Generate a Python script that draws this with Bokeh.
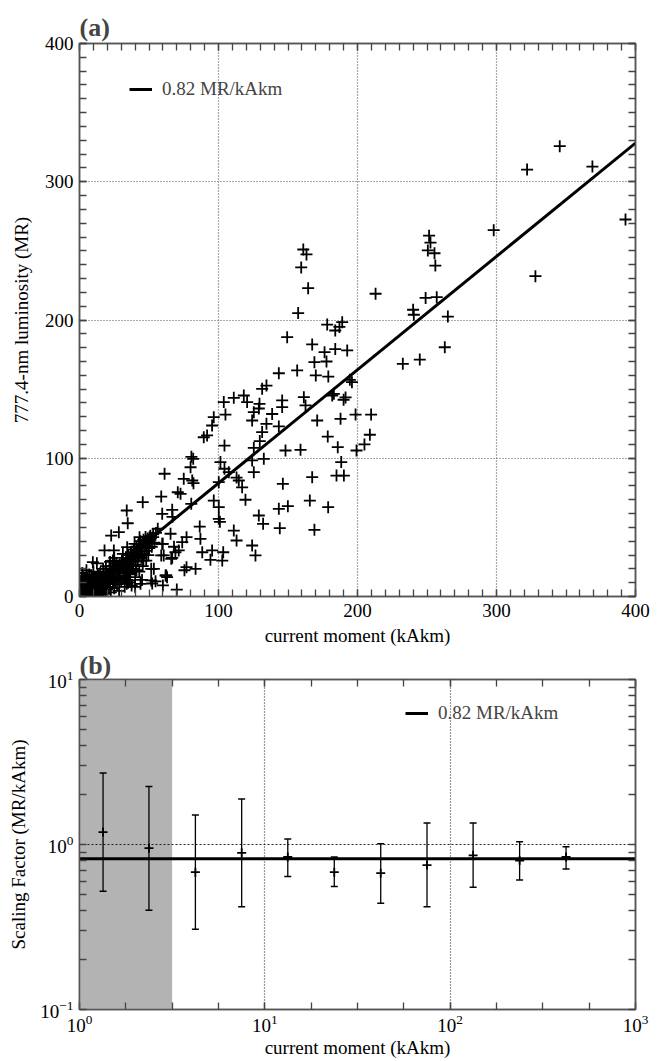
from bokeh.plotting import figure
from bokeh.layouts import column
from bokeh.models import (ColumnDataSource, Whisker, TeeHead, BoxAnnotation, LinearAxis, LogAxis,
                          SingleIntervalTicker, FixedTicker, Legend, LegendItem, CustomJSTickFormatter)
from bokeh.embed import file_html
from bokeh.resources import INLINE

# ---------------- data ----------------
FIT_SLOPE = 0.82
FIT_LABEL = "0.82 MR/kAkm"

# panel (a): current moment (kAkm) vs 777.4-nm luminosity (MR)
moment_ka = [
    345.5, 322, 369, 392.8, 328, 298, 251.5, 252.5, 250.6, 255.4, 256, 213, 249, 257, 240, 240.5, 265, 262.8,
    232.6, 244.8, 194.5, 196, 183, 191.4, 189, 184, 187, 184, 192.6,
    161, 163.3, 159.5, 164.5, 157.3, 149.4, 167.4, 178.2, 176.3, 169, 177.7, 170, 179, 156.6, 143.4, 131.4,
    134.5, 103.8, 111, 118.2, 129.5, 145.8, 161.4, 181.8, 190, 145.8, 129,
    162.6, 125.4, 138.6, 124.2, 134.5, 143.4, 131.4, 129.7, 125.4, 132.6, 124.2, 148.2, 159, 171, 187.8, 178.6,
    185.8, 198.6, 209.8, 208.9, 205, 199.3, 188.3, 184.9, 190.2, 167.4, 146.3, 165.7, 178.9, 149.9, 143.4, 129,
    132.1, 144.1, 169, 124.2, 126.6, 120.6,
    96.6, 95.4, 105, 89.4, 91.8, 104.3, 81.8, 79.9, 81.1, 75, 82, 61.2, 101.4, 104.3, 107.4, 100.2, 70.7, 58.8,
    72.7, 96.6, 100.2, 80.4, 59.5, 66.7, 66.9, 100.2, 101, 86.5, 56.3, 65.5, 77, 73.9, 59.5, 87, 71.4, 88.3,
    95.4, 103.4, 102.7, 94.2, 60.6, 66.7, 111, 113, 77, 83.5, 75.5, 61.9, 53.5, 54.7, 125.4, 119.4, 114.6, 117,
    113, 80.5,
    9.6, 12.5, 24, 31.2, 39.6, 43.2, 50.4, 59.9, 58.8, 66, 68, 69, 51.6, 51.6, 62.4, 35, 40, 45, 43.9, 60, 70,
    34, 36, 28.3, 24.7, 34.3, 22.8, 18, 45.5, 34, 34.7, 63, 52.3,
    0.5, 1, 1.5, 2, 2.5, 3, 3, 3.5, 4, 4, 4.5, 5, 5, 5.5, 6, 6, 6.5, 7, 7, 7.5, 8, 8, 8.5, 9, 9, 9.5, 10, 10,
    10.5, 11, 11, 11.5, 12, 12, 12.5, 2, 1, 0.5, 1.5, 3, 2, 0.8, 13, 13.5, 14, 14, 14.5, 15, 15.5, 16, 16, 16.5,
    17, 17.5, 18, 18, 18.5, 19, 19.5, 20, 20, 20.5, 21, 21.5, 22, 22.5, 23, 23.5, 24, 24.5, 25, 25, 26, 26.5,
    27, 27.5, 28, 28.5, 29, 29.5, 30, 30.5, 31, 32, 32.5, 33, 33.5, 34, 34.5, 35, 35.5, 36, 36.5, 37, 37.5, 38,
    38.5, 39, 39.5, 40, 40.5, 41, 41.5, 42, 42.5, 43, 43.5, 44, 44.5, 45, 45.5, 46, 46.5, 47, 47.5, 48, 48.5,
    49, 49.5, 50, 51, 52, 53, 54, 55,
    3, 4, 5, 6, 7, 8, 9, 10, 11, 12, 13, 14, 15, 16, 17, 18, 19, 20, 21, 22, 23, 24, 25, 26, 27, 28, 29, 30,
    31, 32, 33, 34, 35, 36, 37, 38, 39, 40, 41, 42, 43, 44, 45, 46, 47, 48, 49, 50, 51, 52, 53,
    6, 8, 10, 12, 4, 2, 1, 0.3, 0.5, 1, 2, 3, 4, 5, 6, 7, 8, 9, 11, 13, 15, 17, 19, 22, 25, 10, 7, 5,
]
luminosity_mr = [
    325.7, 308.8, 311, 272.7, 231.7, 265, 261, 256, 250.3, 248.3, 239.4, 219, 216, 216.5, 207.4, 203.8, 202.5,
    180.3, 168.3, 171.4, 156.7, 155, 146.6, 144, 198.4, 192.4, 195, 179, 178,
    251, 247.4, 238, 223, 205, 187.6, 182.3, 196.7, 176.7, 169.5, 170, 159.9, 159.1, 163.5, 161.5, 150.2,
    152.6, 140.6, 143.7, 145.4, 139.4, 141.8, 144.2, 145.4, 142.3, 137, 136,
    138.2, 133.3, 132, 127.3, 124.9, 123, 118.9, 112.4, 107.5, 99.6, 98.4, 105.6, 106.1, 127.3, 128.5, 115.7,
    108, 131.6, 131.6, 117, 110, 105.6, 97.2, 87.5, 87.5, 86.3, 81.5, 69.4, 64.6, 65.3, 63.4, 58.6,
    52.6, 49.4, 48.2, 36.9, 29.7, 140.6,
    129.7, 123.7, 131.6, 115.2, 116.5, 109.2, 99.6, 93.5, 83.9, 85.1, 82, 88.8, 97.2, 92.4, 89.9, 82.7, 75.4,
    72.3, 74.3, 69.4, 64.6, 67, 59.8, 62.7, 57.6, 56.2, 54, 50.6, 49, 45.4, 42.9, 39.3, 38.1, 41.7, 33.3, 32,
    33.3, 32, 26, 26.5, 29.7, 28, 47.7, 40.5, 21.2, 20, 19, 15.2, 20, 11, 89.9, 70, 83.9, 79,
    86, 101,
    24.8, 24, 26, 30.9, 38.1, 42.9, 42.9, 38.1, 29.7, 27.3, 36, 32, 20, 11.6, 15.2, 10, 7, 12, 9.2, 8, 5,
    9.2, 11.5, 46.5, 33.3, 35.7, 44.1, 33.3, 68.2, 62.2, 53, 14, 9.4,
    0.5, 2, 0.8, 3, 1.5, 5, 0.5, 2.5, 4, 8, 1, 6, 2.5, 10, 3.5, 7, 12, 1.5, 5, 9, 3, 6.5, 14, 2, 8, 5, 11, 3.5,
    7, 1, 9.5, 5.5, 13, 2.5, 8, 6, 9, 4, 12, 14, 17, 7, 6, 11, 3, 15, 8.5, 5, 12, 1.5, 9, 14,
    4, 17, 7, 11, 2, 14, 18, 5, 9, 16, 12, 20, 7, 3, 15, 18, 10, 22, 13, 6, 17, 24,
    9, 20, 14, 4, 23, 17, 11, 26, 20, 15, 7, 24, 28, 18, 12, 30, 22, 27, 16, 32, 8, 25,
    20, 34, 29, 14, 23, 36, 31, 26, 38, 18, 33, 40, 28, 36, 22, 41, 31, 38, 43, 26, 35,
    42, 30, 40, 44, 36, 45, 39, 46,
    1.5, 3, 4, 5, 3, 7, 6, 8, 6, 10, 9, 11, 8, 12, 10, 14, 9, 13, 16, 11, 19, 15, 18, 12, 21, 18, 13, 22,
    25, 19, 14, 26, 21, 17, 28, 22, 30, 26, 19, 33, 29, 35, 30, 26, 37, 33, 39, 35, 41, 38, 43,
    1, 1, 1.5, 0.8, 0.5, 0.2, 1, 2, 6, 11, 8, 10, 13, 15, 9, 11, 10, 13, 14, 16, 17, 20, 22, 25, 28, 18, 16, 19,
]

# panel (b): binned scaling factor (MR/kAkm)
bin_moment = [1.34, 2.37, 4.22, 7.5, 13.3, 23.7, 42.2, 75, 133, 237, 422]
factor_mid = [1.19, 0.95, 0.68, 0.89, 0.84, 0.68, 0.67, 0.75, 0.86, 0.80, 0.84]
factor_hi = [2.71, 2.25, 1.51, 1.89, 1.08, 0.84, 1.01, 1.35, 1.35, 1.04, 0.97]
factor_lo = [0.52, 0.40, 0.306, 0.42, 0.64, 0.556, 0.44, 0.42, 0.55, 0.61, 0.71]
shaded_moment = [1.0, 3.16]

# ---------------- style ----------------
FONT = "Liberation Serif"
W = 657
LEFT, RIGHT = 79, 22
A_TOP, A_FRAME, A_BOTTOM = 43, 553, 52
B_TOP, B_BOTTOM = 28, 52
B_H = 1061 - (A_TOP + A_FRAME + A_BOTTOM)
B_FRAME = B_H - B_TOP - B_BOTTOM


def style_axis(ax, show_labels=True):
    ax.major_tick_in = 7
    ax.major_tick_out = 0
    ax.minor_tick_in = 7
    ax.minor_tick_out = 0
    ax.major_tick_line_color = "#444444"
    ax.minor_tick_line_color = "#444444"
    ax.major_tick_line_width = 1.3
    ax.minor_tick_line_width = 1.3
    ax.axis_line_color = "#555555"
    ax.axis_line_width = 1.5
    if show_labels:
        ax.major_label_text_font = FONT
        ax.major_label_text_font_size = "19px"
        ax.major_label_text_color = "black"
        ax.axis_label_text_font = FONT
        ax.axis_label_text_font_size = "19px"
        ax.axis_label_text_font_style = "normal"
        ax.axis_label_text_color = "black"
    else:
        ax.major_label_text_font_size = "0px"
        ax.major_label_standoff = 0
        ax.axis_label = None


def style_title(p):
    p.title.text_font = FONT
    p.title.text_font_style = "bold"
    p.title.text_font_size = "26px"
    p.title.align = "left"
    p.title.offset = 0


# ---------------- panel (a) ----------------
pa = figure(width=W, height=A_TOP + A_FRAME + A_BOTTOM, x_range=(0, 400), y_range=(0, 400),
            output_backend="svg", toolbar_location=None, title="(a)",
            min_border_left=LEFT, min_border_right=RIGHT, min_border_top=A_TOP, min_border_bottom=A_BOTTOM)
style_title(pa)
pa.title.standoff = 4
pa.outline_line_color = "#555555"
pa.outline_line_width = 1.5

tick_a = SingleIntervalTicker(interval=100, num_minor_ticks=10)
pa.xaxis.ticker = tick_a
pa.yaxis.ticker = tick_a
pa.xaxis.axis_label = "current moment (kAkm)"
pa.yaxis.axis_label = "777.4-nm luminosity (MR)"
for ax in pa.xaxis + pa.yaxis:
    style_axis(ax)
pa.xaxis.major_label_standoff = 7
pa.xaxis.axis_label_standoff = 5
pa.yaxis.major_label_standoff = 6
pa.yaxis.axis_label_standoff = 10

for g in (pa.xgrid, pa.ygrid):
    g.grid_line_color = "#555555"
    g.grid_line_dash = "1 2"
    g.grid_line_width = 1.2

blank = CustomJSTickFormatter(code="return ''")
for side in ("right", "above"):
    ax = LinearAxis(ticker=SingleIntervalTicker(interval=100, num_minor_ticks=10), formatter=blank)
    style_axis(ax, show_labels=False)
    pa.add_layout(ax, side)

pa.scatter(moment_ka, luminosity_mr, marker="cross", size=12, line_color="black", line_width=1.8)
xa = [pa.x_range.start, pa.x_range.end]
fit_a = pa.line(xa, [FIT_SLOPE * v for v in xa], line_color="black", line_width=3)

leg_a = Legend(items=[LegendItem(label=FIT_LABEL, renderers=[fit_a])], location=(50, A_FRAME - 57),
               padding=0, margin=0, spacing=0, glyph_width=23, label_standoff=10,
               border_line_color=None, background_fill_alpha=0,
               label_text_font=FONT, label_text_font_size="19px")
pa.add_layout(leg_a)

# ---------------- panel (b) ----------------
pb = figure(width=W, height=B_H, x_range=(1, 1000), y_range=(0.1, 10),
            x_axis_type="log", y_axis_type="log",
            output_backend="svg", toolbar_location=None, title="(b)",
            min_border_left=LEFT, min_border_right=RIGHT, min_border_top=B_TOP,
            min_border_bottom=B_BOTTOM)
style_title(pb)
pb.title.standoff = 0
pb.outline_line_color = "#555555"
pb.outline_line_width = 1.5


def x_ticker_b():
    return FixedTicker(ticks=[1, 10, 100, 1000], minor_ticks=[10 ** (k / 4) for k in range(13)])


def y_ticker_b():
    return FixedTicker(ticks=[0.1, 1, 10],
                       minor_ticks=[m / 10 for m in range(2, 10)] + [float(m) for m in range(2, 10)])


pb.xaxis.ticker = x_ticker_b()
pb.yaxis.ticker = y_ticker_b()
pb.xaxis.axis_label = "current moment (kAkm)"
pb.yaxis.axis_label = "Scaling Factor (MR/kAkm)"
for ax in pb.xaxis + pb.yaxis:
    style_axis(ax)
pb.xaxis.major_label_standoff = 5
pb.xaxis.axis_label_standoff = 2
pb.yaxis.major_label_standoff = 6
pb.yaxis.axis_label_standoff = 8

pb.xgrid.grid_line_color = "#333333"
pb.xgrid.grid_line_dash = "1 2"
pb.xgrid.grid_line_width = 1.2
pb.ygrid.grid_line_color = "#222222"
pb.ygrid.grid_line_dash = "2 2"

pb.add_layout(LogAxis(ticker=y_ticker_b(), formatter=CustomJSTickFormatter(code="return ''")), "right")
pb.add_layout(LogAxis(ticker=x_ticker_b(), formatter=CustomJSTickFormatter(code="return ''")), "above")
style_axis(pb.right[0], show_labels=False)
style_axis(pb.above[0], show_labels=False)

shade = BoxAnnotation(left=shaded_moment[0], right=shaded_moment[1], fill_color="#b3b3b3",
                      fill_alpha=1, line_color=None, level="image")
pb.add_layout(shade)

src = ColumnDataSource(dict(x=bin_moment, y=factor_mid, hi=factor_hi, lo=factor_lo))
wh = Whisker(base="x", upper="hi", lower="lo", source=src, dimension="height",
             line_color="black", line_width=1.3,
             upper_head=TeeHead(size=7, line_width=1.5, line_color="black"),
             lower_head=TeeHead(size=7, line_width=1.5, line_color="black"))
pb.add_layout(wh)
pb.scatter("x", "y", source=src, marker="cross", size=9, line_color="black", line_width=1.8)

xb = [pb.x_range.start, pb.x_range.end]
fit_b = pb.line(xb, [FIT_SLOPE for _ in xb], line_color="black", line_width=3)

leg_b = Legend(items=[LegendItem(label=FIT_LABEL, renderers=[fit_b])], location=(326, B_FRAME - 48),
               padding=0, margin=0, spacing=0, glyph_width=23, label_standoff=10,
               border_line_color=None, background_fill_alpha=0,
               label_text_font=FONT, label_text_font_size="19px")
pb.add_layout(leg_b)

layout = column(pa, pb, spacing=0)
open("out.html", "w").write(file_html(layout, INLINE))
